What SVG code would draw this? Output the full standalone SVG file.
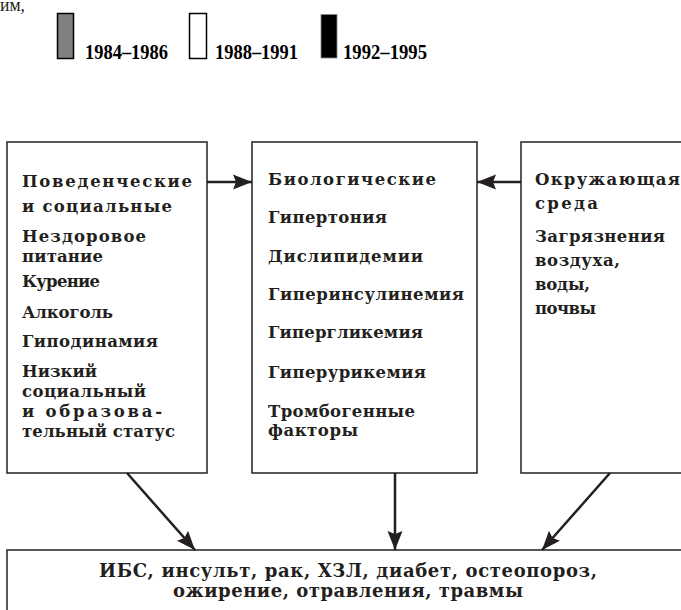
<svg xmlns="http://www.w3.org/2000/svg" width="681" height="610" viewBox="0 0 681 610">
  <style>
    .box { fill: #ffffff; stroke: #231f20; stroke-width: 1.5; }
    .t { font-family: "DejaVu Serif", "Liberation Serif", serif; font-weight: bold; font-size: 16.5px; fill: #231f20; }
    .b { font-family: "DejaVu Serif", "Liberation Serif", serif; font-weight: bold; font-size: 18px; fill: #231f20; }
    .lg { font-family: "Liberation Serif", "DejaVu Serif", serif; font-weight: bold; font-size: 22px; fill: #000000; }
    .top { font-family: "Liberation Serif", "DejaVu Serif", serif; font-size: 18px; fill: #231f20; }
    .conn { stroke: #231f20; stroke-width: 2.5; fill: none; marker-end: url(#ah); }
  </style>
  <defs>
    <marker id="ah" markerUnits="userSpaceOnUse" markerWidth="20" markerHeight="16" viewBox="0 0 20 16" refX="19" refY="8" orient="auto">
      <path d="M0,0.5 L19,8 L0,15.5 L3,8 Z" fill="#231f20"/>
    </marker>
  </defs>

  <text class="top" x="0" y="11" textLength="25" lengthAdjust="spacingAndGlyphs">им,</text>

  <g id="legend">
    <rect x="57.5" y="13.5" width="16" height="45" fill="#808080" stroke="#000" stroke-width="1.5"/>
    <text class="lg" x="85" y="59" textLength="83" lengthAdjust="spacingAndGlyphs">1984–1986</text>
    <rect x="189.5" y="13.5" width="17" height="45" fill="#ffffff" stroke="#000" stroke-width="1.5"/>
    <text class="lg" x="215" y="59" textLength="83" lengthAdjust="spacingAndGlyphs">1988–1991</text>
    <rect x="321" y="14.5" width="16" height="43.5" fill="#000000" stroke="#888" stroke-width="0.8"/>
    <text class="lg" x="343" y="59" textLength="84" lengthAdjust="spacingAndGlyphs">1992–1995</text>
  </g>

  <g id="node-behavioral">
    <rect class="box" x="7" y="142" width="200" height="331"/>
    <text class="t" x="22" y="187" textLength="170" lengthAdjust="spacing">Поведенческие</text>
    <text class="t" x="22" y="212" textLength="150" lengthAdjust="spacing">и социальные</text>
    <text class="t" x="22" y="242" textLength="124" lengthAdjust="spacing">Нездоровое</text>
    <text class="t" x="22" y="262" textLength="81" lengthAdjust="spacing">питание</text>
    <text class="t" x="22" y="287" textLength="78" lengthAdjust="spacing">Курение</text>
    <text class="t" x="22" y="318" textLength="91" lengthAdjust="spacing">Алкоголь</text>
    <text class="t" x="22" y="347" textLength="136" lengthAdjust="spacing">Гиподинамия</text>
    <text class="t" x="22" y="377" textLength="75" lengthAdjust="spacing">Низкий</text>
    <text class="t" x="22" y="397" textLength="124" lengthAdjust="spacing">социальный</text>
    <text class="t" x="22" y="417" textLength="140" lengthAdjust="spacing">и образова-</text>
    <text class="t" x="22" y="437" textLength="153" lengthAdjust="spacing">тельный статус</text>
  </g>

  <g id="node-biological">
    <rect class="box" x="252" y="142" width="225" height="331"/>
    <text class="t" x="268" y="185" textLength="168" lengthAdjust="spacing">Биологические</text>
    <text class="t" x="268" y="223" textLength="119" lengthAdjust="spacing">Гипертония</text>
    <text class="t" x="268" y="262" textLength="155" lengthAdjust="spacing">Дислипидемии</text>
    <text class="t" x="268" y="300" textLength="196" lengthAdjust="spacing">Гиперинсулинемия</text>
    <text class="t" x="268" y="338" textLength="155" lengthAdjust="spacing">Гипергликемия</text>
    <text class="t" x="268" y="378" textLength="158" lengthAdjust="spacing">Гиперурикемия</text>
    <text class="t" x="268" y="417" textLength="147" lengthAdjust="spacing">Тромбогенные</text>
    <text class="t" x="268" y="436" textLength="90" lengthAdjust="spacing">факторы</text>
  </g>

  <g id="node-environment">
    <rect class="box" x="521" y="142" width="200" height="331"/>
    <text class="t" x="535" y="185" textLength="145" lengthAdjust="spacing">Окружающая</text>
    <text class="t" x="535" y="209" textLength="63" lengthAdjust="spacing">среда</text>
    <text class="t" x="535" y="242" textLength="130" lengthAdjust="spacing">Загрязнения</text>
    <text class="t" x="535" y="266" textLength="85" lengthAdjust="spacing">воздуха,</text>
    <text class="t" x="535" y="290" textLength="55" lengthAdjust="spacing">воды,</text>
    <text class="t" x="535" y="314" textLength="61" lengthAdjust="spacing">почвы</text>
  </g>

  <g id="node-diseases">
    <rect class="box" x="7" y="550" width="700" height="80"/>
    <text class="b" x="99" y="577" textLength="498" lengthAdjust="spacing">ИБС, инсульт, рак, ХЗЛ, диабет, остеопороз,</text>
    <text class="b" x="173" y="597" textLength="350" lengthAdjust="spacing">ожирение, отравления, травмы</text>
  </g>

  <g id="connectors">
    <line class="conn" x1="207" y1="182" x2="252" y2="182"/>
    <line class="conn" x1="521" y1="182" x2="477" y2="182"/>
    <line class="conn" x1="127" y1="473" x2="195" y2="550"/>
    <line class="conn" x1="395" y1="473" x2="395" y2="550"/>
    <line class="conn" x1="610" y1="473" x2="542" y2="550"/>
  </g>
</svg>
